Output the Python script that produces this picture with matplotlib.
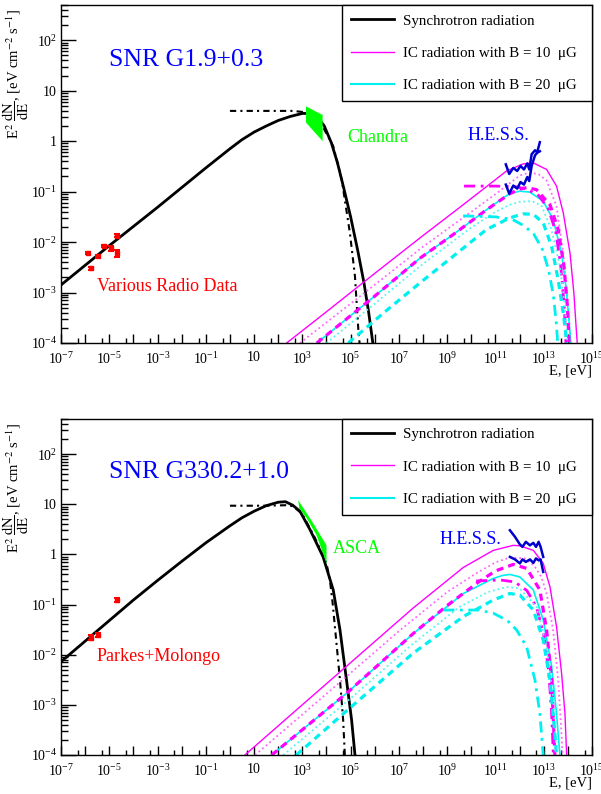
import matplotlib
matplotlib.use('Agg')
import matplotlib.pyplot as plt
import numpy as np
from matplotlib.ticker import FixedLocator, FixedFormatter, LogLocator, NullFormatter
from matplotlib.lines import Line2D

plt.rcParams['font.family'] = ['Liberation Serif', 'DejaVu Serif']
plt.rcParams['mathtext.fontset'] = 'stix'

### values: log10(E / eV) and log10(E^2 dN/dE / eV cm^-2 s^-1)

# ---- SNR G1.9+0.3 (top)
g19_sync_logE = [-7, -5, -3, -2, -1, -0.5, 0, 0.5, 1, 1.5, 2, 2.5, 3, 3.3, 3.6, 3.9, 4.2, 4.45, 4.7, 5.0, 5.3, 5.55, 5.75, 5.92]
g19_sync_logY = [-2.85, -2.07, -1.31, -0.92, -0.53, -0.34, -0.15, 0.03, 0.18, 0.30, 0.41, 0.49, 0.55, 0.55, 0.48, 0.31, -0.03, -0.42, -0.90, -1.50, -2.18, -2.80, -3.40, -4.0]
g19_cut_logE = [0.0, 1.5, 2.6, 3.0, 3.5, 3.9, 4.28, 4.63, 4.97, 5.18, 5.32, 5.37]
g19_cut_logY = [0.60, 0.60, 0.60, 0.58, 0.48, 0.24, -0.10, -0.76, -1.82, -2.68, -3.74, -4.0]
g19_chandra_logE = [3.15, 3.84, 3.84, 3.15]
g19_chandra_logY = [0.69, 0.52, 0.00, 0.37]
g19_radio_logE = [-5.87, -5.77, -5.45, -5.22, -4.94, -4.69, -4.69]
g19_radio_logY = [-2.22, -2.52, -2.28, -2.07, -2.12, -1.87, -2.22]
g19_radio_err = [0.015, 0.03, 0.02, 0.02, 0.05, 0.025, 0.07]

g19_b10_logE = [2.35, 4.0, 6.0, 8.0, 9.5, 10.63, 11.46, 12.15, 12.57, 13.12, 13.53, 13.81, 14.09, 14.25, 14.36, 14.39]
g19_b10_logY = [-4.0, -3.38, -2.62, -1.87, -1.32, -0.90, -0.59, -0.45, -0.43, -0.56, -0.89, -1.42, -2.22, -3.01, -3.81, -4.0]
g19_b10dot_logE = [2.9, 5.0, 7.0, 8.0, 9.94, 11.0, 11.6, 12.01, 12.43, 12.8, 13.12, 13.53, 13.81, 14.02, 14.09, 14.11]
g19_b10dot_logY = [-4.0, -3.22, -2.47, -2.09, -1.42, -1.05, -0.83, -0.68, -0.62, -0.66, -0.78, -1.29, -2.22, -3.28, -3.81, -4.0]
g19_b10dash_logE = [3.6, 6.0, 7.87, 9.25, 10.63, 11.6, 12.0, 12.29, 12.7, 13.26, 13.60, 13.84, 13.98, 14.05]
g19_b10dash_logY = [-4.0, -3.07, -2.32, -1.85, -1.36, -1.04, -0.95, -0.92, -0.96, -1.26, -1.75, -2.48, -3.28, -4.0]
g19_b10dd_logE = [9.7, 11.0, 11.8, 12.3, 12.8, 13.2, 13.5, 13.7, 13.85, 13.92]
g19_b10dd_logY = [-0.89, -0.89, -0.90, -0.95, -1.08, -1.35, -1.80, -2.45, -3.25, -4.0]

g19_b20_logE = [3.6, 6.0, 7.87, 9.25, 10.63, 11.3, 11.6, 12.01, 12.43, 12.98, 13.39, 13.74, 13.95, 14.09, 14.12]
g19_b20_logY = [-4.0, -3.07, -2.32, -1.85, -1.36, -1.13, -1.04, -0.99, -1.01, -1.19, -1.55, -2.22, -3.01, -3.81, -4.0]
g19_b20dot_logE = [4.0, 6.0, 7.87, 10.0, 11.0, 11.6, 12.01, 12.5, 12.9, 13.32, 13.67, 13.88, 13.95, 13.98]
g19_b20dot_logY = [-4.0, -3.22, -2.48, -1.71, -1.40, -1.26, -1.20, -1.19, -1.27, -1.75, -2.48, -3.28, -3.81, -4.0]
g19_b20dash_logE = [4.9, 6.5, 7.87, 9.25, 10.63, 11.6, 12.15, 12.57, 12.98, 13.33, 13.60, 13.81, 13.91, 13.95]
g19_b20dash_logY = [-4.0, -3.35, -2.81, -2.28, -1.75, -1.52, -1.44, -1.45, -1.62, -2.09, -2.75, -3.41, -3.81, -4.0]
g19_b20dd_logE = [9.66, 11.0, 11.7, 12.2, 12.6, 12.95, 13.2, 13.4, 13.52, 13.58]
g19_b20dd_logY = [-1.48, -1.50, -1.55, -1.68, -1.85, -2.15, -2.55, -3.05, -3.60, -4.0]

g19_hess_logE = [11.43, 11.57, 11.74, 11.90, 12.04, 12.18, 12.32, 12.40, 12.50, 12.64, 12.73, 12.84]
g19_hess_hi = [-0.46, -0.65, -0.53, -0.59, -0.49, -0.56, -0.44, -0.56, -0.26, -0.18, -0.22, -0.02]
g19_hess_lo = [-0.86, -1.04, -0.88, -0.94, -0.81, -0.86, -0.71, -0.79, -0.49, -0.28, -0.23, -0.20]

# ---- SNR G330.2+1.0 (bottom)
g330_sync_logE = [-7, -5, -4, -3, -2, -1, 0, 0.5, 1.0, 1.5, 2.0, 2.3, 2.6, 2.9, 3.31, 3.86, 4.28, 4.56, 4.83, 5.04, 5.18]
g330_sync_logY = [-2.14, -1.32, -0.91, -0.52, -0.14, 0.23, 0.57, 0.73, 0.86, 0.97, 1.04, 1.05, 0.98, 0.86, 0.50, -0.05, -0.71, -1.51, -2.51, -3.30, -4.0]
g330_cut_logE = [0.0, 1.5, 2.3, 2.62, 3.0, 3.5, 4.0, 4.14, 4.25, 4.35, 4.56, 4.69, 4.76]
g330_cut_logY = [0.97, 0.97, 0.98, 0.96, 0.80, 0.35, -0.18, -0.51, -0.95, -1.45, -2.51, -3.30, -4.0]
g330_asca_logE = [2.83, 3.45, 4.0, 4.0, 3.59, 3.18, 2.87]
g330_asca_logY = [1.08, 0.62, 0.18, -0.18, 0.38, 0.72, 0.92]
g330_radio_logE = [-5.77, -5.45, -4.69]
g330_radio_logY = [-1.66, -1.60, -0.91]
g330_radio_err = [0.05, 0.04, 0.04]

g330_b10_logE = [0.62, 2.9, 4.83, 7.59, 9.67, 10.91, 11.74, 12.01, 12.57, 12.98, 13.26, 13.53, 13.74, 13.88, 13.95]
g330_b10_logY = [-4.0, -3.04, -2.23, -1.07, -0.26, 0.08, 0.18, 0.17, 0.08, -0.18, -0.65, -1.44, -2.37, -3.17, -4.0]
g330_b10dot_logE = [1.04, 4.0, 7.0, 9.0, 10.2, 11.0, 11.6, 12.2, 12.6, 12.9, 13.12, 13.39, 13.60, 13.74, 13.78]
g330_b10dot_logY = [-4.0, -2.78, -1.53, -0.75, -0.38, -0.16, -0.06, -0.08, -0.22, -0.45, -0.78, -1.51, -2.51, -3.60, -4.0]
g330_b10dash_logE = [1.73, 4.83, 7.59, 9.0, 10.3, 11.0, 11.74, 12.3, 12.84, 13.12, 13.33, 13.46]
g330_b10dash_logY = [-4.0, -2.77, -1.58, -1.02, -0.55, -0.33, -0.20, -0.28, -0.71, -1.51, -2.51, -4.0]
g330_b10dd_logE = [10.2, 11.2, 11.8, 12.3, 12.7, 13.0, 13.2, 13.32, 13.40]
g330_b10dd_logY = [-0.53, -0.51, -0.55, -0.72, -1.05, -1.60, -2.30, -3.10, -4.0]

g330_b20_logE = [1.73, 4.83, 7.59, 9.67, 10.91, 11.3, 11.60, 12.01, 12.57, 12.98, 13.33, 13.53, 13.67]
g330_b20_logY = [-4.0, -2.77, -1.58, -0.78, -0.48, -0.42, -0.40, -0.45, -0.71, -1.31, -2.24, -3.17, -4.0]
g330_b20dot_logE = [2.21, 5.0, 7.59, 9.5, 10.7, 11.46, 12.01, 12.70, 13.12, 13.39, 13.53]
g330_b20dot_logY = [-4.0, -2.87, -1.78, -1.05, -0.75, -0.65, -0.68, -1.05, -1.84, -2.84, -4.0]
g330_b20dash_logE = [2.75, 4.83, 7.59, 9.67, 10.91, 11.60, 12.01, 12.57, 12.98, 13.26, 13.46, 13.53]
g330_b20dash_logY = [-4.0, -3.12, -1.97, -1.24, -0.91, -0.78, -0.81, -1.11, -1.71, -2.51, -3.57, -4.0]
g330_b20dd_logE = [8.84, 10.3, 10.9, 11.5, 11.88, 12.29, 12.64, 12.84, 12.98]
g330_b20dd_logY = [-1.11, -1.11, -1.17, -1.32, -1.51, -1.84, -2.51, -3.17, -4.0]

g330_hess_logE = [11.60, 11.81, 12.01, 12.12, 12.26, 12.43, 12.57, 12.68, 12.79, 12.87, 12.98]
g330_hess_hi = [0.48, 0.35, 0.20, 0.15, 0.25, 0.18, 0.23, 0.15, 0.25, 0.15, -0.05]
g330_hess_lo = [-0.05, -0.10, -0.18, -0.10, -0.15, -0.10, -0.17, -0.08, -0.12, -0.10, -0.35]

legend_labels = ['Synchrotron radiation', u'IC radiation with B = 10  \u03bcG', u'IC radiation with B = 20  \u03bcG']

MAG = '#ff00ff'
MAG_L = '#ff66ff'
CYA = '#00f0f0'
CYA_L = '#55f5f5'
DASH = (2.2, 1.6)
DASHDOT = (4, 2, 1, 2)
DOT = (1, 1.6)


def p(v):
    return 10.0 ** np.asarray(v, dtype=float)


def curve(ax, logE, logY, color, lw, dashes=None):
    line, = ax.plot(p(logE), p(logY), color=color, lw=lw)
    if dashes is not None:
        line.set_dashes(dashes)


def setup(ax):
    ax.set_xscale('log')
    ax.set_yscale('log')
    ax.set_xlim(1e-7, 1e15)
    ax.set_ylim(1e-4, 5e2)
    xe = np.arange(-7, 16)
    xlab = []
    for e in xe:
        if e % 2 == 0:
            xlab.append('')
        elif e == 1:
            xlab.append('10')
        else:
            xlab.append(r'$\mathregular{10^{%d}}$' % e)
    ax.xaxis.set_major_locator(FixedLocator(10.0 ** xe))
    ax.xaxis.set_major_formatter(FixedFormatter(xlab))
    ax.xaxis.set_minor_locator(FixedLocator(5 * 10.0 ** np.arange(-7, 15)))
    ax.xaxis.set_minor_formatter(NullFormatter())
    ye = np.arange(-4, 3)
    ylab = []
    for e in ye:
        if e == 0:
            ylab.append('1')
        elif e == 1:
            ylab.append('10')
        else:
            ylab.append(r'$\mathregular{10^{%d}}$' % e)
    ax.yaxis.set_major_locator(FixedLocator(10.0 ** ye))
    ax.yaxis.set_major_formatter(FixedFormatter(ylab))
    ax.yaxis.set_minor_locator(LogLocator(base=10, subs=np.arange(2, 10)))
    ax.yaxis.set_minor_formatter(NullFormatter())
    ax.tick_params(axis='x', which='major', direction='in', length=6.5, width=1, pad=5.5, labelsize=10)
    ax.tick_params(axis='x', which='minor', direction='in', length=3.5, width=1)
    ax.tick_params(axis='y', which='major', direction='in', length=11, width=1, pad=3, labelsize=10)
    ax.tick_params(axis='y', which='minor', direction='in', length=5, width=1)
    for s in ax.spines.values():
        s.set_linewidth(1)
    ax.set_ylabel(r'E$^{2}$ $\dfrac{\mathrm{dN}}{\mathrm{dE}}$, [eV cm$^{-2}$ s$^{-1}$]', fontsize=10.5, loc='top')
    ax.yaxis.set_label_coords(-0.056, 0.99)
    ax.set_xlabel('E, [eV]', fontsize=10.5, loc='right')
    ax.xaxis.set_label_coords(1.0, -0.065)
    handles = [Line2D([], [], color='black', lw=2), Line2D([], [], color=MAG, lw=1),
               Line2D([], [], color=CYA, lw=1.5)]
    leg = ax.legend(handles, legend_labels, loc='upper left', bbox_to_anchor=(0.529, 0.719, 0.471, 0.281),
                    mode='expand', fontsize=10.8, fancybox=False, edgecolor='black', framealpha=1,
                    borderaxespad=0, handlelength=2.9, handletextpad=0.6, labelspacing=1.25, borderpad=0.6)
    leg.get_frame().set_linewidth(1)


def ic_set(ax, b10, b10dot, b10dash, b10dd, b20, b20dot, b20dash, b20dd):
    curve(ax, *b10, MAG, 1.0)
    curve(ax, *b10dot, MAG_L, 1.3, DOT)
    curve(ax, *b20, CYA, 1.2)
    curve(ax, *b10dash, MAG, 2.3, DASH)
    curve(ax, *b10dd, MAG, 2.0, DASHDOT)
    curve(ax, *b20dot, CYA_L, 1.3, DOT)
    curve(ax, *b20dash, CYA, 2.3, DASH)
    curve(ax, *b20dd, CYA, 2.0, DASHDOT)


fig = plt.figure(figsize=(6.01, 7.94), dpi=100)
ax1 = fig.add_axes([0.1015, 0.568, 0.8835, 0.4257])
ax2 = fig.add_axes([0.1015, 0.0491, 0.8835, 0.4232])

# top
setup(ax1)
ax1.fill(p(g19_chandra_logE), p(g19_chandra_logY), color='#00ff00', lw=0, zorder=3)
curve(ax1, g19_cut_logE, g19_cut_logY, 'black', 1.5, (3, 2, 1, 2))
curve(ax1, g19_sync_logE, g19_sync_logY, 'black', 2.0)
ic_set(ax1, (g19_b10_logE, g19_b10_logY), (g19_b10dot_logE, g19_b10dot_logY),
       (g19_b10dash_logE, g19_b10dash_logY), (g19_b10dd_logE, g19_b10dd_logY),
       (g19_b20_logE, g19_b20_logY), (g19_b20dot_logE, g19_b20dot_logY),
       (g19_b20dash_logE, g19_b20dash_logY), (g19_b20dd_logE, g19_b20dd_logY))
curve(ax1, g19_hess_logE, g19_hess_hi, '#0000cc', 1.8)
curve(ax1, g19_hess_logE, g19_hess_lo, '#0000cc', 1.8)
y = p(g19_radio_logY)
ax1.errorbar(p(g19_radio_logE), y, yerr=[y - y / p(g19_radio_err), y * p(g19_radio_err) - y],
             fmt='s', ms=2.5, color='red', ecolor='red', elinewidth=1.5, capsize=2, capthick=1.5, zorder=4)
ax1.text(0.0904, 0.837, 'SNR G1.9+0.3', transform=ax1.transAxes, fontsize=18.5, color='#0000ff', va='center')
ax1.text(0.540, 0.609, 'Chandra', transform=ax1.transAxes, fontsize=13, color='#00ff00', va='center')
ax1.text(0.765, 0.615, 'H.E.S.S.', transform=ax1.transAxes, fontsize=13, color='#0000ff', va='center')
ax1.text(0.068, 0.166, 'Various Radio Data', transform=ax1.transAxes, fontsize=13, color='#ff0000', va='center')

# bottom
setup(ax2)
ax2.fill(p(g330_asca_logE), p(g330_asca_logY), color='#00ff00', lw=0, zorder=3)
curve(ax2, g330_cut_logE, g330_cut_logY, 'black', 1.5, (3, 2, 1, 2))
curve(ax2, g330_sync_logE, g330_sync_logY, 'black', 2.0)
ic_set(ax2, (g330_b10_logE, g330_b10_logY), (g330_b10dot_logE, g330_b10dot_logY),
       (g330_b10dash_logE, g330_b10dash_logY), (g330_b10dd_logE, g330_b10dd_logY),
       (g330_b20_logE, g330_b20_logY), (g330_b20dot_logE, g330_b20dot_logY),
       (g330_b20dash_logE, g330_b20dash_logY), (g330_b20dd_logE, g330_b20dd_logY))
curve(ax2, g330_hess_logE, g330_hess_hi, '#0000cc', 1.8)
curve(ax2, g330_hess_logE, g330_hess_lo, '#0000cc', 1.8)
y = p(g330_radio_logY)
ax2.errorbar(p(g330_radio_logE), y, yerr=[y - y / p(g330_radio_err), y * p(g330_radio_err) - y],
             fmt='s', ms=2.5, color='red', ecolor='red', elinewidth=1.5, capsize=2, capthick=1.5, zorder=4)
ax2.text(0.0904, 0.842, 'SNR G330.2+1.0', transform=ax2.transAxes, fontsize=18.5, color='#0000ff', va='center')
ax2.text(0.512, 0.616, 'ASCA', transform=ax2.transAxes, fontsize=13, color='#00ff00', va='center')
ax2.text(0.712, 0.640, 'H.E.S.S.', transform=ax2.transAxes, fontsize=13, color='#0000ff', va='center')
ax2.text(0.066, 0.292, 'Parkes+Molongo', transform=ax2.transAxes, fontsize=13, color='#ff0000', va='center')

fig.savefig('out.png', dpi=100)
